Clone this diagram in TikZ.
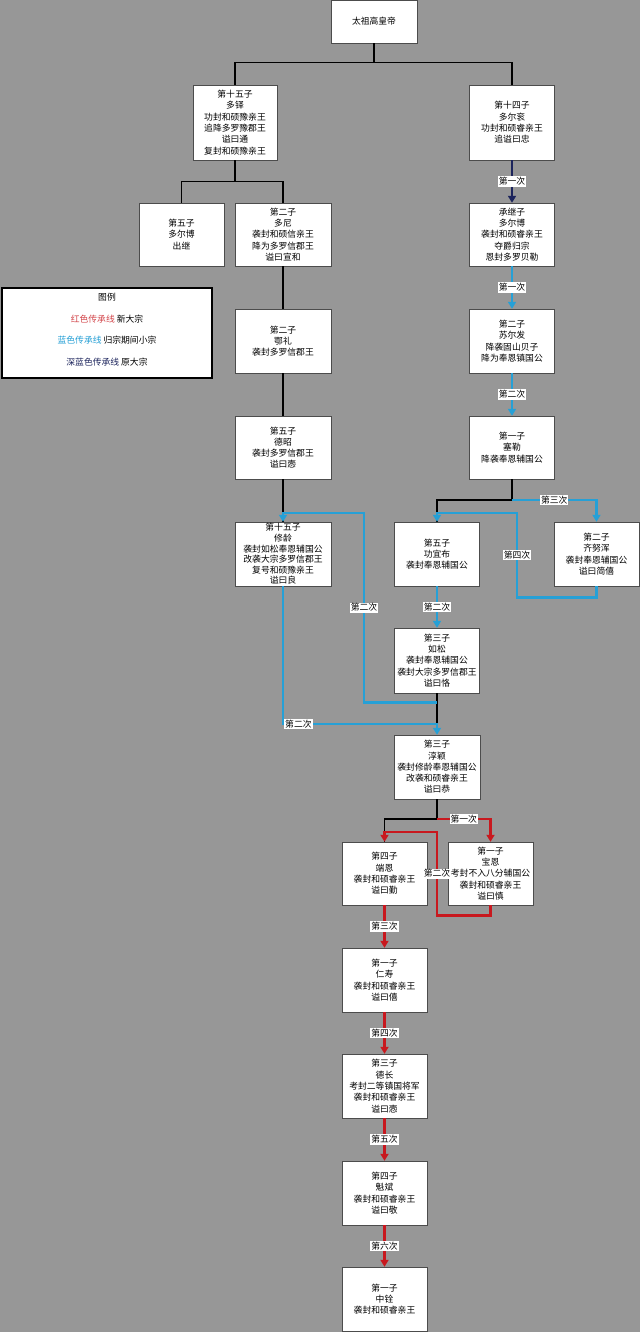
\documentclass[tikz,border=0pt]{standalone}
\usepackage{fontspec}
\setmainfont{Noto Sans CJK SC}
\usetikzlibrary{arrows.meta}

\definecolor{bggray}{RGB}{151,151,151}
\definecolor{linered}{RGB}{200,24,30}
\definecolor{lineblue}{RGB}{38,160,214}
\definecolor{linenavy}{RGB}{28,36,92}

\begin{document}
\begin{tikzpicture}[x=1pt, y=-1pt,
    box/.style={draw=black!70, fill=white, align=center, minimum width=85, minimum height=64, inner sep=1pt, font=\fontsize{8.8}{11.3}\selectfont},
    wide/.style={box, minimum width=96},
    tag/.style={fill=white, inner sep=1pt, font=\fontsize{8.8}{10}\selectfont},
    tree/.style={draw=black, line width=1.2pt},
    blueline/.style={draw=lineblue, line width=2.8pt, -{Triangle[length=7pt,width=8pt]}},
    redline/.style={draw=linered, line width=2.8pt, -{Triangle[length=7pt,width=8pt]}},
    navyline/.style={draw=linenavy, line width=2.2pt, -{Triangle[length=7pt,width=8pt]}}]
    \fill[bggray] (0,0) rectangle (640,1332);
    \useasboundingbox (0,0) rectangle (640,1332);

    % Nodes
    \node[box, minimum width=86, minimum height=43] (T) at (374,21.5) {太祖高皇帝};
    \node[box, minimum width=84, minimum height=75] (DD) at (235,122.5) {第十五子\\多铎\\功封和硕豫亲王\\追降多罗豫郡王\\谥曰通\\复封和硕豫亲王};
    \node[box, minimum height=75] (DG) at (512,122.5) {第十四子\\多尔衮\\功封和硕睿亲王\\追谥曰忠};
    \node[box, minimum height=63] (DEB) at (181.5,234.5) {第五子\\多尔博\\出继};
    \node[wide, minimum height=63] (DN) at (283,234.5) {第二子\\多尼\\袭封和硕信亲王\\降为多罗信郡王\\谥曰宣和};
    \node[box, minimum height=63] (CJ) at (512,234.5) {承继子\\多尔博\\袭封和硕睿亲王\\夺爵归宗\\恩封多罗贝勒};
    \node[wide] (EL) at (283,341) {第二子\\鄂礼\\袭封多罗信郡王};
    \node[box] (SF) at (512,341) {第二子\\苏尔发\\降袭固山贝子\\降为奉恩镇国公};
    \node[wide, minimum height=63] (DZ) at (283,447.5) {第五子\\德昭\\袭封多罗信郡王\\谥曰悫};
    \node[box, minimum height=63] (SL) at (512,447.5) {第一子\\塞勒\\降袭奉恩辅国公};
    \node[wide, font=\fontsize{8.8}{10.6}\selectfont] (XL) at (283,554) {第十五子\\修龄\\袭封如松奉恩辅国公\\改袭大宗多罗信郡王\\复号和硕豫亲王\\谥曰良};
    \node[box] (GYB) at (437,554) {第五子\\功宜布\\袭封奉恩辅国公};
    \node[box] (QNH) at (596.5,554) {第二子\\齐努浑\\袭封奉恩辅国公\\谥曰简僖};
    \node[box, minimum height=65] (RS) at (437,660.5) {第三子\\如松\\袭封奉恩辅国公\\袭封大宗多罗信郡王\\谥曰恪};
    \node[box, minimum width=86] (CY) at (437,767) {第三子\\淳颖\\袭封修龄奉恩辅国公\\改袭和硕睿亲王\\谥曰恭};
    \node[box, minimum height=63] (DE) at (384.5,873.5) {第四子\\端恩\\袭封和硕睿亲王\\谥曰勤};
    \node[box, minimum height=63] (BE) at (490.5,873.5) {第一子\\宝恩\\考封不入八分辅国公\\袭封和硕睿亲王\\谥曰慎};
    \node[box] (RSh) at (384.5,980) {第一子\\仁寿\\袭封和硕睿亲王\\谥曰僖};
    \node[box] (DC) at (384.5,1086) {第三子\\德长\\考封二等镇国将军\\袭封和硕睿亲王\\谥曰悫};
    \node[box] (KB) at (384.5,1193) {第四子\\魁斌\\袭封和硕睿亲王\\谥曰敬};
    \node[box] (ZQ) at (384.5,1299) {第一子\\中铨\\袭封和硕睿亲王};

    % Legend
    \node[draw=black, line width=2pt, fill=white, minimum width=210, minimum height=90, inner sep=0pt] (L) at (107,333) {};
    \node[tag] (L0) at (107,297) {图例};
    \node[tag] (L1) at (107,319) {\textcolor{linered!80}{红色传承线} 新大宗};
    \node[tag] (L2) at (107,340.5) {\textcolor{lineblue}{蓝色传承线} 归宗期间小宗};
    \node[tag] (L3) at (107,362) {\textcolor{linenavy}{深蓝色传承线} 原大宗};

    % Junctions
    \coordinate (F1) at (512,500);
    \coordinate (F2) at (437,819);
    \coordinate (J1) at (437,724);

    % Edges
    \draw[tree] (T.south) -- ++(0,20);
    \draw[tree] (DD.north) -- ++(0,-22) -| (DG.north);
    \draw[tree] (DD.south) -- ++(0,22);
    \draw[tree] (DEB.north) -- ++(0,-21) -| (DN.north);
    \draw[tree] (DN.south) -- (EL.north);
    \draw[tree] (EL.south) -- (DZ.north);
    \draw[tree] (DZ.south) -- (XL.north);
    \draw[tree] (SL.south) -- (F1) -| (GYB.north);
    \draw[tree] (RS.south) -- (J1);
    \draw[tree] (CY.south) -- (F2) -| (DE.north);

    \draw[navyline] (DG.south) -- node[tag]{第一次} (CJ.north);

    \draw[blueline] (CJ.south) -- node[tag]{第一次} (SF.north);
    \draw[blueline] (SF.south) -- node[tag]{第二次} (SL.north);
    \draw[blueline] (F1) -| node[tag, pos=0.25]{第三次} (QNH.north);
    \draw[blueline] (QNH.south) -- ++(0,11) -| node[tag, pos=0.75]{第四次} (517,513) -| (GYB.north);
    \draw[blueline] (GYB.south) -- node[tag]{第二次} (RS.north);
    \draw[blueline] ([yshift=-9pt]RS.south) -| node[tag, pos=0.75]{第二次} (364,513) -| (XL.north);
    \draw[blueline] (XL.south) |- node[tag, pos=0.55]{第二次} (J1) -- (CY.north);

    \draw[redline] (F2) -| node[tag, pos=0.25]{第一次} (BE.north);
    \draw[redline] (BE.south) -- ++(0,10) -| node[tag, pos=0.75]{第二次} (437,832) -| (DE.north);
    \draw[redline] (DE.south) -- node[tag]{第三次} (RSh.north);
    \draw[redline] (RSh.south) -- node[tag]{第四次} (DC.north);
    \draw[redline] (DC.south) -- node[tag]{第五次} (KB.north);
    \draw[redline] (KB.south) -- node[tag]{第六次} (ZQ.north);
\end{tikzpicture}
\end{document}
